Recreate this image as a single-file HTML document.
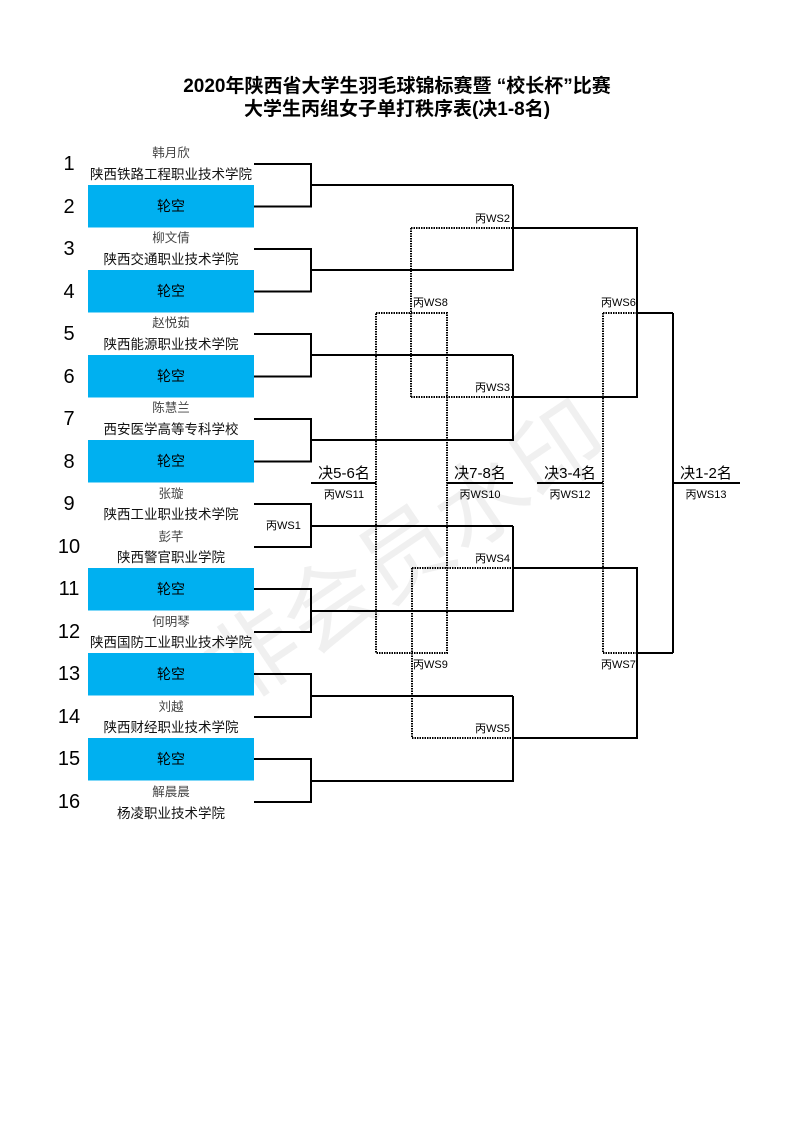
<!DOCTYPE html>
<html><head><meta charset="utf-8"><style>
html,body{margin:0;padding:0;background:#fff;}
svg{display:block;}
text{font-family:"Liberation Sans","Noto Sans CJK SC",sans-serif;}
</style></head><body>
<svg width="793" height="1122" viewBox="0 0 793 1122" xmlns="http://www.w3.org/2000/svg">
<text x="0" y="0" transform="translate(410,560) rotate(-34)" text-anchor="middle" dominant-baseline="middle" font-size="92" fill="#f0f0f0">非会员水印</text>
<g font-weight="bold" font-size="19" text-anchor="middle" fill="#000">
<text x="397" y="92">2020年陕西省大学生羽毛球锦标赛暨 “校长杯”比赛</text>
<text x="397" y="115">大学生丙组女子单打秩序表(决1-8名)</text>
</g>
<g fill="#00b0f0">
<rect x="88" y="185" width="166" height="42.5"/>
<rect x="88" y="270" width="166" height="42.5"/>
<rect x="88" y="355" width="166" height="42.5"/>
<rect x="88" y="440" width="166" height="42.5"/>
<rect x="88" y="568" width="166" height="42.5"/>
<rect x="88" y="653" width="166" height="42.5"/>
<rect x="88" y="738" width="166" height="42.5"/>
</g>
<g font-size="14" text-anchor="middle" fill="#000">
<text x="171" y="211">轮空</text><text x="171" y="296">轮空</text><text x="171" y="381">轮空</text><text x="171" y="466">轮空</text>
<text x="171" y="594">轮空</text><text x="171" y="679">轮空</text><text x="171" y="764">轮空</text>
</g>
<g font-size="20" text-anchor="middle" fill="#000">
<text x="69" y="170">1</text><text x="69" y="213">2</text><text x="69" y="255">3</text><text x="69" y="298">4</text>
<text x="69" y="340">5</text><text x="69" y="383">6</text><text x="69" y="425">7</text><text x="69" y="468">8</text>
<text x="69" y="510">9</text><text x="69" y="553">10</text><text x="69" y="595">11</text><text x="69" y="638">12</text>
<text x="69" y="680">13</text><text x="69" y="723">14</text><text x="69" y="765">15</text><text x="69" y="808">16</text>
</g>
<g font-size="12.5" text-anchor="middle" fill="#444">
<text x="171" y="157">韩月欣</text><text x="171" y="242">柳文倩</text><text x="171" y="327">赵悦茹</text><text x="171" y="412">陈慧兰</text>
<text x="171" y="498">张璇</text><text x="171" y="541">彭芊</text><text x="171" y="626">何明琴</text><text x="171" y="711">刘越</text><text x="171" y="796">解晨晨</text>
</g>
<g font-size="13.5" text-anchor="middle" fill="#111">
<text x="171" y="179">陕西铁路工程职业技术学院</text>
<text x="171" y="264">陕西交通职业技术学院</text>
<text x="171" y="349">陕西能源职业技术学院</text>
<text x="171" y="434">西安医学高等专科学校</text>
<text x="171" y="519">陕西工业职业技术学院</text>
<text x="171" y="562">陕西警官职业学院</text>
<text x="171" y="647">陕西国防工业职业技术学院</text>
<text x="171" y="732">陕西财经职业技术学院</text>
<text x="171" y="818">杨凌职业技术学院</text>
</g>
<g stroke="#000" stroke-width="2" fill="none" stroke-dasharray="1.5 1">
<path d="M411 228 V397 M411 228 H513 M411 397 H513"/>
<path d="M376 313 H447 V653 H376 Z"/>
<path d="M412 568 V738 M412 568 H513 M412 738 H513"/>
<path d="M603 313 V653 M603 313 H637 M603 653 H637"/>
</g>
<g stroke="#000" stroke-width="2" fill="none">
<path d="M254 164 H311 V206.5 H254 M311 185 H513"/>
<path d="M254 249 H311 V291.5 H254 M311 270 H513 V185"/>
<path d="M254 334 H311 V376.5 H254 M311 355 H513"/>
<path d="M254 419 H311 V461.5 H254 M311 440 H513 V355"/>
<path d="M254 504 H311 V547 H254 M311 526 H513"/>
<path d="M254 589 H311 V632 H254 M311 611 H513 V526"/>
<path d="M254 674 H311 V717 H254 M311 696 H513"/>
<path d="M254 759 H311 V802 H254 M311 781 H513 V696"/>
<path d="M513 228 H637 V397 H513 M637 313 H673"/>
<path d="M513 568 H637 V738 H513 M637 653 H673"/>
<path d="M673 313 V653 M673 483 H740"/>
<path d="M311 483 H376 M447 483 H513 M537 483 H603"/>
</g>
<g font-size="15" text-anchor="middle" fill="#000">
<text x="344" y="478">决5-6名</text><text x="480" y="478">决7-8名</text><text x="570" y="478">决3-4名</text><text x="706" y="478">决1-2名</text>
</g>
<g font-size="11" fill="#000">
<text x="344" y="498" text-anchor="middle">丙WS11</text>
<text x="480" y="498" text-anchor="middle">丙WS10</text>
<text x="570" y="498" text-anchor="middle">丙WS12</text>
<text x="706" y="498" text-anchor="middle">丙WS13</text>
<text x="266" y="529">丙WS1</text>
<text x="510" y="222" text-anchor="end">丙WS2</text>
<text x="510" y="391" text-anchor="end">丙WS3</text>
<text x="510" y="562" text-anchor="end">丙WS4</text>
<text x="510" y="732" text-anchor="end">丙WS5</text>
<text x="413" y="306">丙WS8</text>
<text x="413" y="668">丙WS9</text>
<text x="601" y="306">丙WS6</text>
<text x="601" y="668">丙WS7</text>
</g>
</svg>
</body></html>
